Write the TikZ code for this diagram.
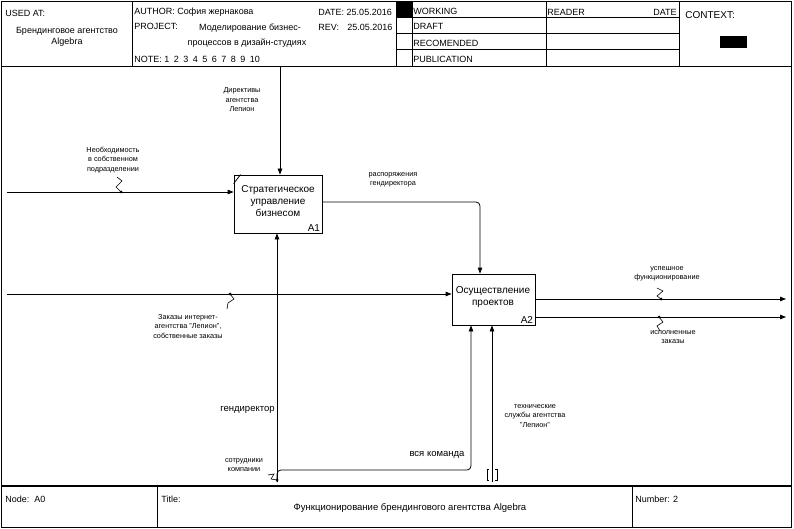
\documentclass[tikz,border=0pt]{standalone}
\usepackage{fontspec}
\setmainfont{Liberation Sans}
\usetikzlibrary{arrows.meta,positioning}

\begin{document}
\begin{tikzpicture}[x=1pt,y=-1pt,line width=0.8pt,
  hdr/.style={anchor=west,inner sep=0pt,font=\fontsize{9}{11}\selectfont},
  func/.style={draw,inner sep=0pt},
  ftext/.style={align=center,inner sep=0pt,font=\fontsize{10}{12}\selectfont},
  fnum/.style={anchor=south east,inner sep=2pt,font=\fontsize{10}{12}\selectfont},
  lbl/.style={align=center,inner sep=0pt,font=\fontsize{7.3}{9.5}\selectfont},
  biglbl/.style={inner sep=0pt,font=\fontsize{9.5}{11}\selectfont},
  arr/.style={-{Triangle[length=6pt,width=4.5pt]}},
  squig/.style={line width=0.6pt},
  dot/.style={circle,fill,inner sep=0pt,minimum size=3pt}]
\useasboundingbox (0,0) rectangle (794,529);
\draw (1.5,1.5) rectangle (791,527);
\draw (1.5,66) -- (791,66);
\foreach \x in {132,396,412,546,679} \draw (\x,1.5) -- (\x,66);
\foreach \y in {17,33,49} \draw (396,\y) -- (679,\y);
\fill (396,1.5) rectangle (412,17);
\fill (720,36) rectangle (747,48);
\node[hdr] (usedat) at (5,13) {USED AT:};
\node[hdr,anchor=center,align=center,font=\fontsize{9}{11}\selectfont] (usedby) at (67,37) {Брендинговое агентство\\Algebra};
\node[hdr] (author) at (134,12) {AUTHOR: София жернакова};
\node[hdr] (date) at (318,12) {DATE: 25.05.2016};
\node[hdr] (project) at (134,26) {PROJECT:};
\node[hdr,anchor=center] (projecta) at (250,28) {Моделирование бизнес-};
\node[hdr,anchor=center] (projectb) at (247,43) {процессов в дизайн-студиях};
\node[hdr] (rev) at (318,27) {REV:};
\node[hdr] (revdate) at (347,27) {25.05.2016};
\node[hdr] (note) at (134,59) {NOTE:\ 1\enspace2\enspace3\enspace4\enspace5\enspace6\enspace7\enspace8\enspace9\enspace10};
\node[hdr] (working) at (413,11) {WORKING};
\node[hdr] (draft) at (413,26) {DRAFT};
\node[hdr] (recomended) at (413,43) {RECOMENDED};
\node[hdr] (publication) at (413,59) {PUBLICATION};
\node[hdr] (reader) at (547,12) {READER};
\node[hdr,anchor=east] (readerdate) at (677,12) {DATE};
\node[hdr,font=\fontsize{10}{12}\selectfont] (context) at (685,15) {CONTEXT:};
\draw[line width=1.6pt] (1.5,486) -- (791,486);
\draw (157,486) -- (157,527);
\draw (632,486) -- (632,527);
\node[hdr] (nodeid) at (5,499) {Node:\ \ A0};
\node[hdr] (title) at (161,499) {Title:};
\node[hdr,anchor=center,font=\fontsize{9.5}{11}\selectfont] (titletext) at (410,508) {Функционирование брендингового агентства Algebra};
\node[hdr] (number) at (635,499) {Number: 2};
\node[func,minimum width=88pt,minimum height=58pt] (A1) at (278,204) {};
\draw (A1.north west) ++(0,9) -- ++(7,-9);
\node[ftext] (A1t) at (278,201) {Стратегическое\\управление\\бизнесом};
\node[fnum] (A1n) at (A1.south east) {A1};
\node[func,minimum width=83pt,minimum height=51pt] (A2) at (493.5,299.5) {};
\node[ftext] (A2t) at (493,297) {Осуществление\\проектов};
\node[fnum] (A2n) at (A2.south east) {A2};
\coordinate (c1) at (280,66);
\coordinate (i1) at (7,192);
\coordinate (c2) at (480,202);
\coordinate (i2) at (7,294);
\coordinate (m1) at (277,482);
\coordinate (m2) at (471,470);
\coordinate (m3) at (492,482);
\coordinate (o1) at (786,299);
\coordinate (o2) at (786,317);
\draw[arr] (c1) -- (c1 |- A1.north);
\draw[arr] (i1) -- (i1 -| A1.west);
\draw[arr,rounded corners=4pt] (A1.east |- c2) -| (c2 |- A2.north);
\draw[arr] (i2) -- (i2 -| A2.west);
\draw[arr] (m1) -- (m1 |- A1.south);
\draw[arr,rounded corners=4pt] (m1) |- (m2) -- (m2 |- A2.south);
\draw[arr] (m3) -- (m3 |- A2.south);
\draw[arr] (A2.east |- o1) -- (o1);
\draw[arr] (A2.east |- o2) -- (o2);
\draw[squig] (m3) ++(-3,-13) -- ++(-2,0) -- ++(0,11) -- ++(2,0);
\draw[squig] (m3) ++(3,-13) -- ++(2,0) -- ++(0,11) -- ++(-2,0);
\node[lbl] (directives) at (242,100) {Директивы\\агентства\\Лепион};
\node[lbl] (need) at (113,160) {Необходимость\\в собственном\\подразделении};
\node[lbl] (orders) at (393,180) {распоряжения\\гендиректора};
\node[lbl] (requests) at (188,326) {Заказы интернет-\\агентства "Лепион",\\собственные заказы};
\node[biglbl,anchor=east] (ceo) at (275,410) {гендиректор};
\node[lbl] (staff) at (244,465) {сотрудники\\компании};
\node[biglbl] (team) at (437,455) {вся команда};
\node[lbl] (tech) at (535,416) {технические\\службы агентства\\"Лепион"};
\node[lbl] (success) at (667,274) {успешное\\функционирование};
\node[lbl] (done) at (673,337) {исполненные\\заказы};
\node[dot] (d1) at (121,192) {};
\node[dot] (d2) at (230,294) {};
\node[dot] (d3) at (277,480) {};
\node[dot] (d4) at (661,299) {};
\node[dot] (d5) at (659,317) {};
\draw[squig] (d1.center) -- ++(-5,-5) -- ++(6,-6) -- ++(-5,-4);
\draw[squig] (d2.center) -- ++(4,5) -- ++(-6,4) -- ++(-1,6);
\draw[squig] (d3.center) -- ++(-6,-1) -- ++(3,-5) -- ++(-6,1);
\draw[squig] (d4.center) -- ++(-4,-3) -- ++(6,-5) -- ++(-6,-3);
\draw[squig] (d5.center) -- ++(4,5) -- ++(-6,4) -- ++(3,5);
\end{tikzpicture}
\end{document}
